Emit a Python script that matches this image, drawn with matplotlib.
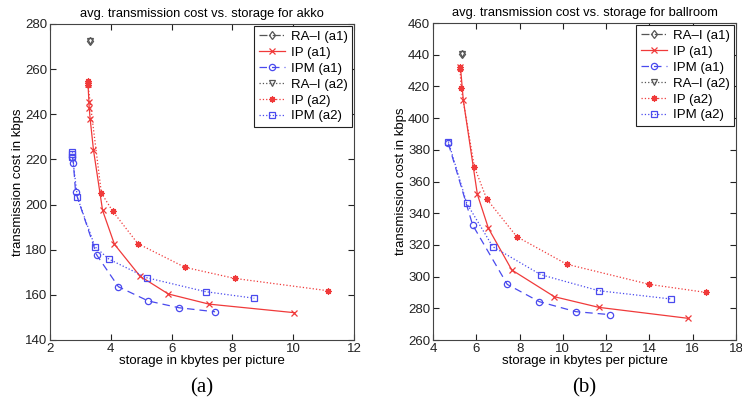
import matplotlib
matplotlib.use("Agg")
import matplotlib.pyplot as plt

plt.rcParams["font.family"] = ["Liberation Sans", "DejaVu Sans"]

# ---------- akko ----------
akko_ra1_x = [3.32]
akko_ra1_y = [272.5]
akko_ra2_x = [3.32]
akko_ra2_y = [272.3]
akko_ip1_x = [3.25, 3.28, 3.29, 3.32, 3.43, 3.73, 4.12, 4.96, 5.89, 7.23, 10.04]
akko_ip1_y = [253.5, 245.6, 242.8, 238.1, 224.2, 197.4, 182.4, 168.3, 160.4, 155.9, 152.1]
akko_ipm1_x = [2.74, 2.77, 2.84, 3.54, 4.25, 5.23, 6.24, 7.43]
akko_ipm1_y = [221.0, 218.4, 205.7, 177.6, 163.6, 157.3, 154.3, 152.5]
akko_ip2_x = [3.24, 3.24, 3.25, 3.69, 4.06, 4.89, 6.44, 8.07, 11.16]
akko_ip2_y = [254.8, 253.9, 253.0, 205.1, 197.1, 182.7, 172.2, 167.3, 161.8]
akko_ipm2_x = [2.74, 2.74, 2.74, 2.90, 3.48, 3.94, 5.18, 7.12, 8.72]
akko_ipm2_y = [223.5, 222.3, 221.2, 203.2, 181.3, 175.8, 167.6, 161.4, 158.5]

# ---------- ballroom ----------
ball_ra1_x = [5.36]
ball_ra1_y = [440.6]
ball_ra2_x = [5.36]
ball_ra2_y = [440.4]
ball_ip1_x = [5.27, 5.40, 6.05, 6.56, 7.64, 9.61, 11.66, 15.77]
ball_ip1_y = [432.0, 411.4, 351.9, 330.5, 304.2, 287.3, 280.6, 273.7]
ball_ipm1_x = [4.71, 5.83, 7.43, 8.91, 10.59, 12.18]
ball_ipm1_y = [384.0, 332.6, 295.1, 284.2, 277.9, 276.0]
ball_ip2_x = [5.25, 5.25, 5.30, 5.91, 6.48, 7.87, 10.18, 14.0, 16.62]
ball_ip2_y = [432.0, 430.8, 418.8, 369.3, 349.0, 325.2, 307.8, 295.1, 290.0]
ball_ipm2_x = [4.71, 5.56, 6.76, 8.98, 11.66, 14.98]
ball_ipm2_y = [385.2, 346.2, 318.9, 301.2, 291.1, 285.9]

labels = ["RA–I (a1)", "IP (a1)", "IPM (a1)", "RA–I (a2)", "IP (a2)", "IPM (a2)"]

RED = "#f03a3a"
BLUE = "#4a4aee"
GRAY = "#555555"
ASTERISK = (8, 2, 0)


def draw_panel(ax, series, title, xlim, xticks, ylim, yticks, tag):
    styles = [
        dict(color=GRAY, ls="-.", marker="d", mfc="none"),
        dict(color=RED, ls="-", marker="x"),
        dict(color=BLUE, ls=(0, (6, 4)), marker="o", mfc="none"),
        dict(color=GRAY, ls=":", marker="v", mfc="none"),
        dict(color=RED, ls=":", marker=ASTERISK),
        dict(color=BLUE, ls=":", marker="s", mfc="none"),
    ]
    for (xs, ys), st, lab in zip(series, styles, labels):
        ax.plot(xs, ys, lw=0.9, ms=4.5, mew=0.9, label=lab, **st)

    ax.set_xlim(*xlim)
    ax.set_ylim(*ylim)
    ax.set_xticks(xticks)
    ax.set_yticks(yticks)
    ax.tick_params(direction="in", top=True, right=True, length=4,
                   labelsize=9.5, colors="#222222", pad=2)
    for sp in ax.spines.values():
        sp.set_color("#444444")
        sp.set_linewidth(0.8)
    ax.set_title(title, fontsize=9.3, pad=5)
    ax.set_xlabel("storage in kbytes per picture", fontsize=9.5, labelpad=0)
    ax.set_ylabel("transmission cost in kbps", fontsize=9.5, labelpad=1)
    leg = ax.legend(loc="upper right", fontsize=9.5, frameon=True, fancybox=False,
                    framealpha=1, edgecolor="#222222", borderpad=0.35,
                    labelspacing=0.28, handlelength=2.0, handletextpad=0.4,
                    borderaxespad=0.15)
    leg.get_frame().set_linewidth(0.8)
    ax.text(0.5, -0.12, tag, transform=ax.transAxes, ha="center", va="top",
            fontsize=15, family=["Liberation Serif", "DejaVu Serif"])


fig = plt.figure(figsize=(7.42, 4.07), dpi=100)
ax1 = fig.add_axes([50 / 742, 1 - 340 / 407, 304 / 742, 316 / 407])
ax2 = fig.add_axes([433 / 742, 1 - 340 / 407, 303 / 742, 317 / 407])

draw_panel(ax1,
           [(akko_ra1_x, akko_ra1_y), (akko_ip1_x, akko_ip1_y),
            (akko_ipm1_x, akko_ipm1_y), (akko_ra2_x, akko_ra2_y),
            (akko_ip2_x, akko_ip2_y), (akko_ipm2_x, akko_ipm2_y)],
           "avg. transmission cost vs. storage for akko",
           (2, 12), [2, 4, 6, 8, 10, 12], (140, 280),
           [140, 160, 180, 200, 220, 240, 260, 280], "(a)")

draw_panel(ax2,
           [(ball_ra1_x, ball_ra1_y), (ball_ip1_x, ball_ip1_y),
            (ball_ipm1_x, ball_ipm1_y), (ball_ra2_x, ball_ra2_y),
            (ball_ip2_x, ball_ip2_y), (ball_ipm2_x, ball_ipm2_y)],
           "avg. transmission cost vs. storage for ballroom",
           (4, 18), [4, 6, 8, 10, 12, 14, 16, 18], (260, 460),
           [260, 280, 300, 320, 340, 360, 380, 400, 420, 440, 460], "(b)")

fig.savefig("out.png", dpi=100, facecolor="white")
